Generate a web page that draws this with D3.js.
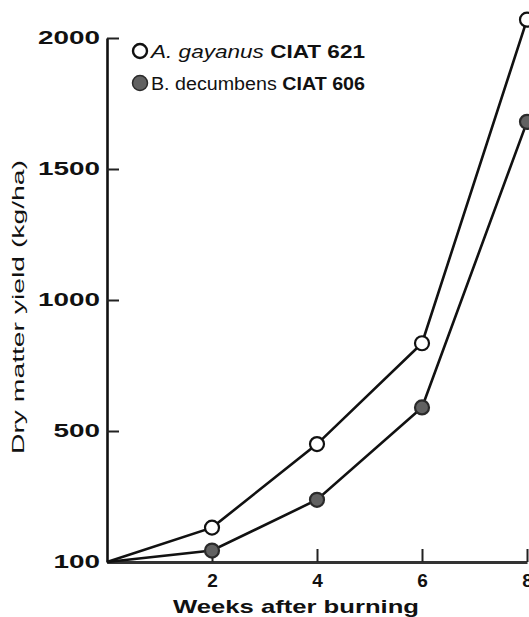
<!DOCTYPE html>
<html>
<head>
<meta charset="utf-8">
<script src="https://cdn.jsdelivr.net/npm/d3@7"></script>
<style>
  html, body { margin: 0; padding: 0; background: #fff; }
  svg { display: block; }
  text { font-family: "Liberation Sans", Arial, Helvetica, sans-serif; fill: #111; }
</style>
</head>
<body>
<svg id="chart" width="529" height="617"></svg>
<script>
// Weeks after burning and dry matter yield (kg/ha) of the two grasses
const weeks = [0, 2, 4, 6, 8];
const gayanus = [100, 205, 460, 835, 2070];
const decumbens = [100, 135, 290, 590, 1680];
const xTicks = [2, 4, 6, 8];
const yTicks = [100, 500, 1000, 1500, 2000];

const svg = d3.select("#chart");

const x = d3.scaleLinear().domain([0, 8]).range([107, 527]);
// the printed axis spaces its labelled values evenly, so the scale is piecewise
const y = d3.scaleLinear().domain(yTicks).range([562, 431, 300, 169, 38]);

// y axis: ticks point into the plot
const yAxis = svg.append("g")
  .attr("transform", `translate(${x(0)},0)`)
  .call(d3.axisLeft(y).tickValues(yTicks).tickFormat(d3.format("d"))
    .tickSize(-12).tickSizeOuter(0).tickPadding(7));
yAxis.select(".domain").attr("stroke", "#111").attr("stroke-width", 2.6);
yAxis.selectAll(".tick line").attr("stroke", "#222").attr("stroke-width", 2);
yAxis.selectAll(".tick text")
  .style("font-size", "18px").style("font-weight", "bold").attr("fill", "#111")
  .attr("textLength", d => String(d).length * 15.5)
  .attr("lengthAdjust", "spacingAndGlyphs");

// x axis: ticks point up from the baseline
const xAxis = svg.append("g")
  .attr("transform", `translate(0,${y(100)})`)
  .call(d3.axisBottom(x).tickValues(xTicks).tickSize(-13).tickSizeOuter(0).tickPadding(12));
xAxis.select(".domain").attr("stroke", "#333").attr("stroke-width", 3);
xAxis.selectAll(".tick line").attr("stroke", "#222").attr("stroke-width", 2);
xAxis.selectAll(".tick text")
  .style("font-size", "19px").style("font-weight", "bold").attr("fill", "#111");

// axis titles
svg.append("text")
  .attr("x", 296).attr("y", 613)
  .attr("text-anchor", "middle")
  .attr("textLength", 246).attr("lengthAdjust", "spacingAndGlyphs")
  .style("font-size", "19px").style("font-weight", "bold")
  .text("Weeks after burning");

svg.append("text")
  .attr("transform", "translate(24,307) rotate(-90)")
  .attr("text-anchor", "middle")
  .attr("textLength", 294).attr("lengthAdjust", "spacingAndGlyphs")
  .style("font-size", "17px")
  .text("Dry matter yield (kg/ha)");

// series lines and markers
const line = d3.line().x((d, i) => x(weeks[i])).y(d => y(d));

const series = [
  { values: decumbens, fill: "#616161", stroke: "#2a2a2a" },
  { values: gayanus, fill: "#ffffff", stroke: "#111" }
];

series.forEach(s => {
  svg.append("path")
    .datum(s.values)
    .attr("fill", "none")
    .attr("stroke", "#111")
    .attr("stroke-width", 2.6)
    .attr("d", line);
  svg.append("g").selectAll("circle")
    .data(s.values.slice(1))
    .join("circle")
    .attr("cx", (d, i) => x(weeks[i + 1]))
    .attr("cy", d => y(d))
    .attr("r", 7)
    .attr("fill", s.fill)
    .attr("stroke", s.stroke)
    .attr("stroke-width", 2.2);
});

// legend
const legend = svg.append("g").attr("transform", "translate(140,51)");
legend.append("circle").attr("cx", 0).attr("cy", 0).attr("r", 7)
  .attr("fill", "#fff").attr("stroke", "#111").attr("stroke-width", 2.4);
const t1 = legend.append("text").attr("x", 11).attr("y", 6.5).style("font-size", "18px")
  .attr("textLength", 214).attr("lengthAdjust", "spacingAndGlyphs");
t1.append("tspan").style("font-style", "italic").text("A. gayanus");
t1.append("tspan").style("font-weight", "bold").text(" CIAT 621");

legend.append("circle").attr("cx", 0).attr("cy", 32).attr("r", 7.5)
  .attr("fill", "#616161").attr("stroke", "#2a2a2a").attr("stroke-width", 1.5);
const t2 = legend.append("text").attr("x", 11).attr("y", 38.5).style("font-size", "18px")
  .attr("textLength", 214).attr("lengthAdjust", "spacingAndGlyphs");
t2.append("tspan").text("B. decumbens");
t2.append("tspan").style("font-weight", "bold").text(" CIAT 606");
</script>
</body>
</html>
